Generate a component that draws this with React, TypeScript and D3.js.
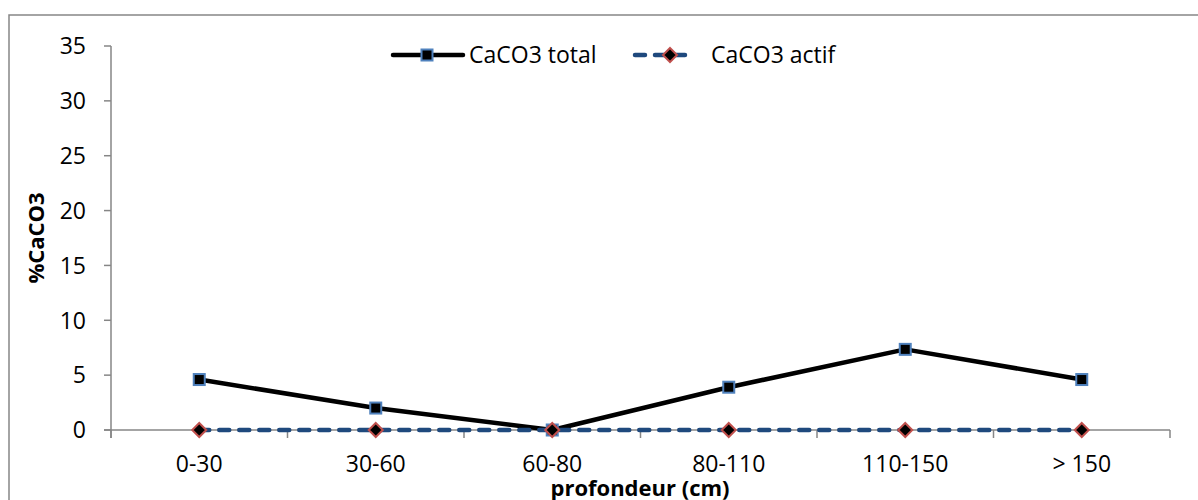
import React from "react";
import * as d3 from "d3";

const categories = ["0-30", "30-60", "60-80", "80-110", "110-150", "> 150"];
const caco3Total = [4.6, 2.0, 0, 3.9, 7.35, 4.6];
const caco3Actif = [0, 0, 0, 0, 0, 0];
const yTicks = [0, 5, 10, 15, 20, 25, 30, 35];
const seriesNames = ["CaCO3 total", "CaCO3 actif"];

const W = 1198, H = 500;
const FONT = "'Open Sans', 'Liberation Sans', sans-serif";
const FS = 23;

export default function App() {
  const x0 = 111, x1 = 1170, yTop = 46, yBot = 430;
  const x = d3.scaleBand<string>().domain(categories).range([x0, x1]);
  const y = d3.scaleLinear().domain([0, 35]).range([yBot, yTop]);
  const cx = (c: string) => (x(c) as number) + x.bandwidth() / 2;
  const line = d3.line<number>().x((_, i) => cx(categories[i])).y((d) => y(d));
  const boundaries = categories.map((c) => x(c) as number).concat([x1]);

  const diamond = (px: number, py: number, r: number) =>
    `M${px},${py - r}L${px + r},${py}L${px},${py + r}L${px - r},${py}Z`;

  return (
    <svg width={W} height={H} style={{ position: "absolute", left: 0, top: 0, fontFamily: FONT }}>
      <rect x={0} y={0} width={W} height={H} fill="#fff" />
      <rect x={9} y={15} width={W} height={H} fill="none" stroke="#868686" strokeWidth={1.5} />
      {/* y axis */}
      <line x1={x0} x2={x0} y1={yTop} y2={yBot + 8} stroke="#868686" strokeWidth={1.5} />
      {yTicks.map((t) => (
        <g key={t}>
          <line x1={x0 - 7} x2={x0} y1={y(t)} y2={y(t)} stroke="#868686" strokeWidth={1.5} />
          <text x={x0 - 25} y={y(t)} dy="0.36em" textAnchor="end" fontSize={FS} fill="#000">{t}</text>
        </g>
      ))}
      {/* x axis */}
      <line x1={x0 - 7} x2={x1} y1={yBot} y2={yBot} stroke="#868686" strokeWidth={1.5} />
      {boundaries.map((b, i) => (
        <line key={i} x1={b} x2={b} y1={yBot} y2={yBot + 8} stroke="#868686" strokeWidth={1.5} />
      ))}
      {categories.map((c) => (
        <text key={c} x={cx(c)} y={yBot + 42} textAnchor="middle" fontSize={FS} fill="#000">{c}</text>
      ))}
      <text x={640} y={496} textAnchor="middle" fontSize={22} fontWeight="bold" fill="#000">profondeur (cm)</text>
      <text transform={`translate(44,238) rotate(-90)`} textAnchor="middle" fontSize={22} fontWeight="bold" fill="#000">%CaCO3</text>

      {/* total series */}
      <path d={line(caco3Total) || ""} fill="none" stroke="#000" strokeWidth={4.5} strokeLinejoin="round" />
      {/* actif series */}
      <path d={line(caco3Actif) || ""} fill="none" stroke="#1f497d" strokeWidth={4.5} strokeDasharray="10 10" strokeLinecap="round" />
      {caco3Total.map((v, i) => (
        <rect key={"t" + i} x={cx(categories[i]) - 5.5} y={y(v) - 5.5} width={11} height={11} fill="#000" stroke="#4f81bd" strokeWidth={2} />
      ))}
      {caco3Actif.map((v, i) => (
        <path key={"a" + i} d={diamond(cx(categories[i]), y(v), 7)} fill="#000" stroke="#c0504d" strokeWidth={2} />
      ))}

      {/* legend */}
      <line x1={393} x2={463} y1={55} y2={55} stroke="#000" strokeWidth={4.5} strokeLinecap="round" />
      <rect x={427 - 5.5} y={55 - 5.5} width={11} height={11} fill="#000" stroke="#4f81bd" strokeWidth={2} />
      <text x={469} y={55} dy="0.36em" fontSize={FS} fill="#000">{seriesNames[0]}</text>
      <line x1={635} x2={695} y1={55} y2={55} stroke="#1f497d" strokeWidth={4.5} strokeDasharray="10 10" strokeLinecap="round" />
      <path d={diamond(670, 55, 7)} fill="#000" stroke="#c0504d" strokeWidth={2} />
      <text x={711} y={55} dy="0.36em" fontSize={FS} fill="#000">{seriesNames[1]}</text>
    </svg>
  );
}
